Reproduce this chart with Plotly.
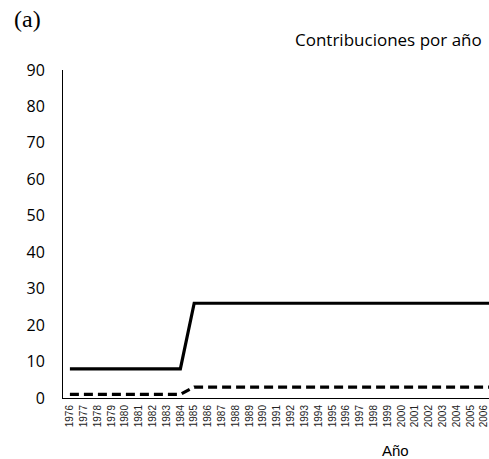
import plotly.graph_objects as go

years = [str(y) for y in range(1976, 2008)]
contrib_total = [8]*9 + [26]*23
contrib_small = [1]*9 + [3]*23

fig = go.Figure()
fig.add_trace(go.Scatter(x=years, y=contrib_total, mode="lines",
                         line=dict(color="black", width=3.2), showlegend=False))
fig.add_trace(go.Scatter(x=years, y=contrib_small, mode="lines",
                         line=dict(color="black", width=3.2, dash="9px,5px"), showlegend=False))

W, H = 489, 459
L, T, B = 63, 70, 61
PW, PH = W - L, H - T - B

fig.update_layout(
    width=W, height=H,
    margin=dict(l=L, r=0, t=T, b=B, pad=0),
    paper_bgcolor="white", plot_bgcolor="white",
    font=dict(family="Open Sans, Liberation Sans, sans-serif", color="black"),
    xaxis=dict(type="category", range=[-0.5, 30.35], showgrid=False, zeroline=False,
               showline=True, linecolor="black", linewidth=1, ticks="",
               tickangle=-90, tickfont=dict(size=10, family="Liberation Sans", color="#222"),
               ticklabelstandoff=2),
    yaxis=dict(range=[0, 90], dtick=10, showgrid=False, zeroline=False,
               showline=True, linecolor="black", linewidth=1, ticks="",
               tickfont=dict(size=16), ticklabelstandoff=14),
    annotations=[
        dict(text="(a)", xref="paper", yref="paper", x=(12 - L)/PW, y=1 + (T - 19)/PH,
             xanchor="left", yanchor="middle", showarrow=False,
             font=dict(family="Liberation Serif", size=24)),
        dict(text="Contribuciones por año", xref="paper", yref="paper",
             x=(484 - L)/PW, y=1 + (T - 40)/PH, xanchor="right", yanchor="middle",
             showarrow=False, font=dict(size=17)),
        dict(text="Año", xref="paper", yref="paper",
             x=(395 - L)/PW, y=-(450 - (H - B))/PH, xanchor="center", yanchor="middle",
             showarrow=False, font=dict(size=15, family="Liberation Sans")),
    ],
)

fig.write_html("out.html", config={"displayModeBar": False},
               post_script="document.body.style.margin='0';")
